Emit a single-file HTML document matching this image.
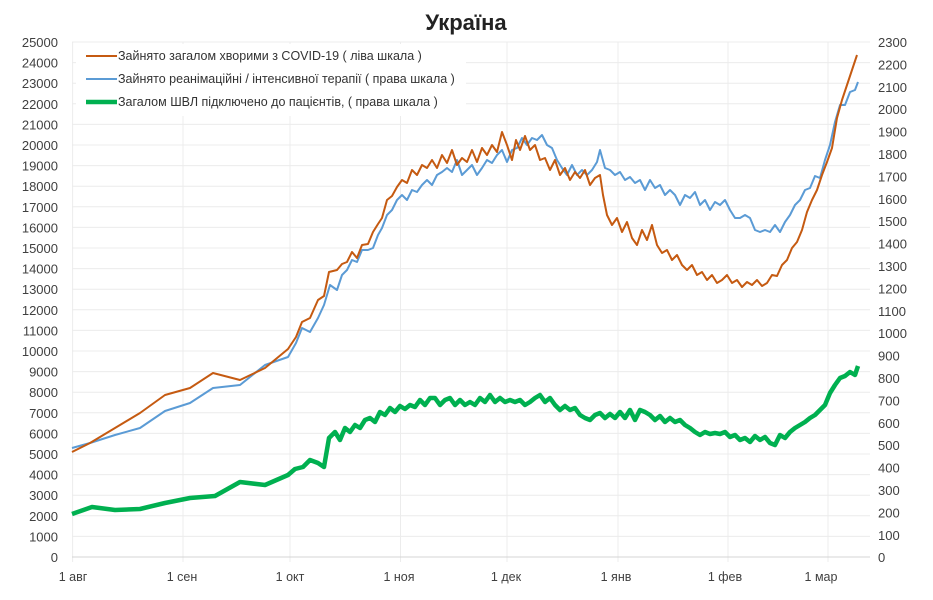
<!DOCTYPE html>
<html><head><meta charset="utf-8"><style>
body{margin:0;background:#fff;}
svg{display:block;font-family:"Liberation Sans",sans-serif;}
</style></head><body>
<svg width="933" height="600" viewBox="0 0 933 600">
<rect width="933" height="600" fill="#fff"/>
<text x="466" y="30" text-anchor="middle" font-size="22" font-weight="bold" fill="#222">Україна</text>
<g stroke="#ececec" stroke-width="1">
<line x1="72" y1="42" x2="870" y2="42"/><line x1="72" y1="62.6" x2="870" y2="62.6"/><line x1="72" y1="83.2" x2="870" y2="83.2"/><line x1="72" y1="103.8" x2="870" y2="103.8"/><line x1="72" y1="124.4" x2="870" y2="124.4"/><line x1="72" y1="145" x2="870" y2="145"/><line x1="72" y1="165.6" x2="870" y2="165.6"/><line x1="72" y1="186.2" x2="870" y2="186.2"/><line x1="72" y1="206.8" x2="870" y2="206.8"/><line x1="72" y1="227.4" x2="870" y2="227.4"/><line x1="72" y1="248" x2="870" y2="248"/><line x1="72" y1="268.6" x2="870" y2="268.6"/><line x1="72" y1="289.2" x2="870" y2="289.2"/><line x1="72" y1="309.8" x2="870" y2="309.8"/><line x1="72" y1="330.4" x2="870" y2="330.4"/><line x1="72" y1="351" x2="870" y2="351"/><line x1="72" y1="371.6" x2="870" y2="371.6"/><line x1="72" y1="392.2" x2="870" y2="392.2"/><line x1="72" y1="412.8" x2="870" y2="412.8"/><line x1="72" y1="433.4" x2="870" y2="433.4"/><line x1="72" y1="454" x2="870" y2="454"/><line x1="72" y1="474.6" x2="870" y2="474.6"/><line x1="72" y1="495.2" x2="870" y2="495.2"/><line x1="72" y1="515.8" x2="870" y2="515.8"/><line x1="72" y1="536.4" x2="870" y2="536.4"/>
<line x1="72.6" y1="42" x2="72.6" y2="562"/><line x1="183" y1="42" x2="183" y2="562"/><line x1="290" y1="42" x2="290" y2="562"/><line x1="400.5" y1="42" x2="400.5" y2="562"/><line x1="507" y1="42" x2="507" y2="562"/><line x1="618" y1="42" x2="618" y2="562"/><line x1="728" y1="42" x2="728" y2="562"/><line x1="828" y1="42" x2="828" y2="562"/>
</g>
<line x1="72" y1="557" x2="870" y2="557" stroke="#d4d4d4"/>
<g font-size="13" fill="#404040" text-anchor="end">
<text x="58" y="47">25000</text><text x="58" y="67.6">24000</text><text x="58" y="88.2">23000</text><text x="58" y="108.8">22000</text><text x="58" y="129.4">21000</text><text x="58" y="150">20000</text><text x="58" y="170.6">19000</text><text x="58" y="191.2">18000</text><text x="58" y="211.8">17000</text><text x="58" y="232.4">16000</text><text x="58" y="253">15000</text><text x="58" y="273.6">14000</text><text x="58" y="294.2">13000</text><text x="58" y="314.8">12000</text><text x="58" y="335.4">11000</text><text x="58" y="356">10000</text><text x="58" y="376.6">9000</text><text x="58" y="397.2">8000</text><text x="58" y="417.8">7000</text><text x="58" y="438.4">6000</text><text x="58" y="459">5000</text><text x="58" y="479.6">4000</text><text x="58" y="500.2">3000</text><text x="58" y="520.8">2000</text><text x="58" y="541.4">1000</text><text x="58" y="562">0</text>
</g>
<g font-size="13" fill="#404040" text-anchor="start">
<text x="878" y="47">2300</text><text x="878" y="69.4">2200</text><text x="878" y="91.8">2100</text><text x="878" y="114.2">2000</text><text x="878" y="136.6">1900</text><text x="878" y="159">1800</text><text x="878" y="181.4">1700</text><text x="878" y="203.8">1600</text><text x="878" y="226.2">1500</text><text x="878" y="248.6">1400</text><text x="878" y="271">1300</text><text x="878" y="293.4">1200</text><text x="878" y="315.8">1100</text><text x="878" y="338.2">1000</text><text x="878" y="360.6">900</text><text x="878" y="383">800</text><text x="878" y="405.4">700</text><text x="878" y="427.8">600</text><text x="878" y="450.2">500</text><text x="878" y="472.6">400</text><text x="878" y="495">300</text><text x="878" y="517.4">200</text><text x="878" y="539.8">100</text><text x="878" y="562">0</text>
</g>
<g font-size="12.5" fill="#404040" text-anchor="middle">
<text x="73" y="581">1 авг</text><text x="182" y="581">1 сен</text><text x="290" y="581">1 окт</text><text x="399" y="581">1 ноя</text><text x="506" y="581">1 дек</text><text x="616" y="581">1 янв</text><text x="725" y="581">1 фев</text><text x="821" y="581">1 мар</text>
</g>
<polyline fill="none" stroke="#00b050" stroke-width="4.5" stroke-linejoin="round" points="72,514 92,507 115,510 140,509 165,503 190,498 215,496 240,482 265,485 288,475 295,469 303,467 310,460 318,463 324,467 329,438 335,432 340,440 345,428 350,432 355,425 360,428 365,420 370,418 375,422 380,412 385,415 390,408 395,412 400,406 405,409 410,405 415,407 420,400 425,405 430,398 435,398 440,405 445,400 450,398 455,405 460,400 465,405 470,402 475,405 480,398 485,402 490,395 495,402 500,398 505,402 510,400 515,402 520,400 525,405 530,402 535,398 540,395 545,402 550,398 555,405 560,410 565,406 570,410 575,408 580,415 585,418 590,420 595,415 600,413 605,418 610,414 615,418 620,412 625,418 630,410 635,420 640,410 645,412 650,415 655,420 660,416 665,422 670,418 675,422 680,420 685,425 690,428 695,432 700,435 705,432 710,434 715,433 720,434 725,432 730,437 735,435 740,440 745,438 750,442 755,436 760,440 765,437 770,443 775,445 780,435 785,438 790,432 795,428 800,425 805,422 810,418 815,415 820,410 825,405 830,393 835,385 840,378 845,376 850,372 855,375 858,366"/>
<polyline fill="none" stroke="#5b9bd5" stroke-width="2" stroke-linejoin="round" points="72,448 90,443 115,435 140,428 165,411 190,403 213,388 240,385 265,365 288,357 296,343 302,328 310,332 318,318 324,305 330,285 337,290 342,275 347,270 352,260 357,262 362,250 368,250 373,248 378,235 382,228 387,215 392,210 397,200 402,195 407,200 412,190 417,192 422,185 427,180 432,185 437,175 442,172 447,168 452,172 457,160 462,175 467,170 472,165 477,175 482,168 487,160 492,163 497,155 502,150 507,162 512,150 517,148 522,138 527,145 532,138 537,140 542,135 547,145 552,148 557,160 562,168 567,175 572,165 577,175 582,170 587,175 592,170 597,162 600,150 605,168 610,170 615,175 620,172 625,180 630,177 635,183 640,180 645,190 650,180 655,188 660,185 665,195 670,190 675,195 680,205 685,195 690,198 695,192 700,205 705,200 710,210 715,202 720,205 725,200 730,210 735,218 740,218 745,215 750,218 755,230 760,232 765,230 770,232 775,225 780,232 785,222 790,215 795,205 800,200 805,190 810,188 815,176 820,178 825,160 830,145 835,122 840,105 845,105 850,92 855,90 858,82"/>
<polyline fill="none" stroke="#c55a11" stroke-width="2" stroke-linejoin="round" points="72,452 90,443 115,428 140,413 165,395 190,388 213,373 240,380 265,368 288,349 296,337 302,322 310,318 318,300 324,296 329,272 337,270 342,264 347,262 352,252 357,258 362,245 368,244 373,232 378,224 382,218 387,200 392,196 397,187 402,180 407,183 412,170 417,175 422,165 427,168 432,160 437,168 442,155 447,163 452,150 457,165 462,158 467,162 472,150 477,162 482,148 487,155 492,145 497,152 502,132 507,145 512,160 516,140 520,150 525,136 530,150 535,145 540,160 545,158 550,170 555,160 560,175 565,168 570,180 575,172 580,178 585,170 590,185 595,178 600,175 603,195 607,215 612,225 617,218 622,232 627,222 632,238 637,245 642,230 647,240 652,225 657,245 662,253 667,250 672,260 677,255 682,265 687,270 692,265 697,275 702,272 707,280 712,275 717,283 722,280 727,275 732,283 737,280 742,287 747,282 752,285 757,280 762,286 767,283 772,275 777,276 782,265 787,260 792,248 797,242 802,230 807,212 812,200 817,190 822,175 827,162 832,148 837,118 842,100 847,85 852,70 857,55"/>
<rect x="76" y="44" width="390" height="72" fill="#fff"/>
<g font-size="12.5" fill="#333">
<line x1="86" y1="56" x2="117" y2="56" stroke="#c55a11" stroke-width="2"/>
<text x="118" y="60">Зайнято загалом хворими з COVID-19 ( ліва шкала )</text>
<line x1="86" y1="79" x2="117" y2="79" stroke="#5b9bd5" stroke-width="2"/>
<text x="118" y="83">Зайнято реанімаційні / інтенсивної терапії ( права шкала )</text>
<line x1="86" y1="102" x2="117" y2="102" stroke="#00b050" stroke-width="4.5"/>
<text x="118" y="106">Загалом ШВЛ  підключено до пацієнтів, ( права шкала )</text>
</g>
</svg>
</body></html>
